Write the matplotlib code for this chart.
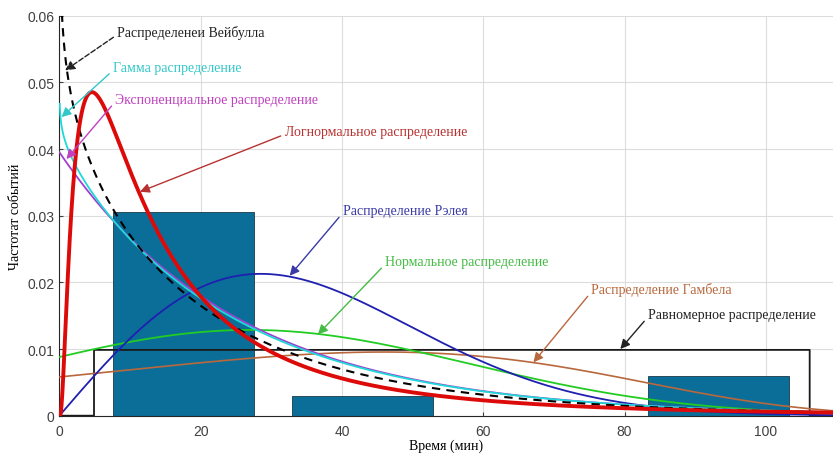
import math
import numpy as np
import matplotlib
matplotlib.use("Agg")
import matplotlib.pyplot as plt

# гистограмма наблюдений
bar_centers = [17.6, 42.9, 93.3]
bar_heights = [0.0305, 0.0030, 0.0060]
bar_width = 20.0

# параметры распределений (оценены по графику)
weibull_k, weibull_lam = 0.9, 22.0
gamma_k, gamma_theta = 0.965, 26.0
exp_mu = 25.3
logn_mu, logn_sigma = 2.608, 1.04
rayleigh_sigma = 28.5
norm_mu, norm_sigma = 27.0, 31.0
gumbel_mu, gumbel_beta = 46.0, 38.5
unif_a, unif_b = 4.9, 106.2

# подписи
labels = ["Распределенеи Вейбулла", "Гамма распределение",
          "Экспоненциальное распределение", "Логнормальное распределение",
          "Распределение Рэлея", "Нормальное распределение",
          "Распределение Гамбела", "Равномерное распределение"]
label_xy = [(8.2, 0.0576), (7.6, 0.0522), (7.9, 0.0475), (31.9, 0.0426),
            (40.1, 0.0308), (46.1, 0.0231), (75.3, 0.0190), (83.3, 0.0152)]
arrow_tip = [(0.8, 0.0518), (0.3, 0.0448), (1.0, 0.0385), (11.4, 0.0336),
             (32.6, 0.0210), (36.6, 0.0122), (67.1, 0.0080), (79.4, 0.0100)]
text_colors = ["#222222", "#33c8c8", "#c040c0", "#b83232",
               "#3a3aa8", "#44bb44", "#b8683c", "#222222"]

x = np.linspace(0.05, 110, 3000)

def weibull(x):
    z = x / weibull_lam
    return weibull_k / weibull_lam * z ** (weibull_k - 1) * np.exp(-z ** weibull_k)

def gamma_pdf(x):
    return x ** (gamma_k - 1) * np.exp(-x / gamma_theta) / (math.gamma(gamma_k) * gamma_theta ** gamma_k)

def expo(x):
    return np.exp(-x / exp_mu) / exp_mu

def lognorm(x):
    return np.exp(-(np.log(x) - logn_mu) ** 2 / (2 * logn_sigma ** 2)) / (x * logn_sigma * math.sqrt(2 * math.pi))

def rayleigh(x):
    return x / rayleigh_sigma ** 2 * np.exp(-x ** 2 / (2 * rayleigh_sigma ** 2))

def normal(x):
    return np.exp(-(x - norm_mu) ** 2 / (2 * norm_sigma ** 2)) / (norm_sigma * math.sqrt(2 * math.pi))

def gumbel_min(x):
    z = (x - gumbel_mu) / gumbel_beta
    return np.exp(z) * np.exp(-np.exp(z)) / gumbel_beta

fig = plt.figure(figsize=(8.33, 4.56), dpi=100)
ax = fig.add_axes([0.0713, 0.0862, 0.9287, 0.877])

ax.bar(bar_centers, bar_heights, width=bar_width, color="#0b6e99",
       edgecolor="#1a3a4a", linewidth=0.6, zorder=1)

xs = np.concatenate([[0, unif_a, unif_a], x[(x > unif_a) & (x < unif_b)], [unif_b, unif_b, 110]])
ys = np.where((xs > unif_a) & (xs < unif_b), 1.0 / (unif_b - unif_a), 0.0)
ys[2] = 1.0 / (unif_b - unif_a)
ys[-3] = 1.0 / (unif_b - unif_a)
ax.plot(xs, ys, color="#1a1a1a", lw=1.3, zorder=2)

x0 = np.concatenate([[0.0], x])
ax.plot(x0, gumbel_min(x0), color="#b8683c", lw=1.2, zorder=3)
ax.plot(x0, normal(x0), color="#22cc22", lw=1.3, zorder=3)
ax.plot(x0, rayleigh(x0), color="#1f1fb0", lw=1.3, zorder=3)
ax.plot(x0, expo(x0), color="#a040d0", lw=1.3, zorder=3)
ax.plot(x, gamma_pdf(x), color="#20d8d8", lw=1.3, zorder=3)
ax.plot(x, weibull(x), color="black", lw=1.5, ls=(0, (4, 3)), zorder=4)
ax.plot(x0, np.concatenate([[0.0], lognorm(x)]), color="#dd0a0a", lw=2.8, zorder=5)

for i in range(len(labels)):
    ax.annotate(labels[i], xy=arrow_tip[i], xytext=label_xy[i],
                ha="left", va="center", color=text_colors[i],
                fontsize=10, family="Liberation Serif",
                arrowprops=dict(arrowstyle="-|>", color=text_colors[i], lw=1.0,
                                ls="--" if i == 0 else "-", mutation_scale=14,
                                relpos=(0, 0.3), shrinkA=1, shrinkB=0),
                zorder=6)

ax.set_xlim(0, 109.5)
ax.set_ylim(0, 0.06)
ax.set_xticks([0, 20, 40, 60, 80, 100])
ax.set_yticks([0, 0.01, 0.02, 0.03, 0.04, 0.05, 0.06])
ax.set_yticklabels(["0", "0.01", "0.02", "0.03", "0.04", "0.05", "0.06"])
ax.tick_params(direction="in", labelsize=10, colors="#404040", length=3,
               labelfontfamily="Liberation Sans")
ax.tick_params(axis="x", pad=6)
ax.grid(True, color="#dcdcdc", lw=0.8)
ax.set_axisbelow(True)
for s in ["top", "right"]:
    ax.spines[s].set_visible(False)
ax.spines["left"].set_color("#262626")
ax.spines["bottom"].set_color("#262626")

ax.set_xlabel("Время (мин)", fontsize=10, family="Liberation Serif", labelpad=0)
ax.set_ylabel("Частотат событий", fontsize=10, family="Liberation Serif", labelpad=4)

fig.savefig("out.png", dpi=100)
